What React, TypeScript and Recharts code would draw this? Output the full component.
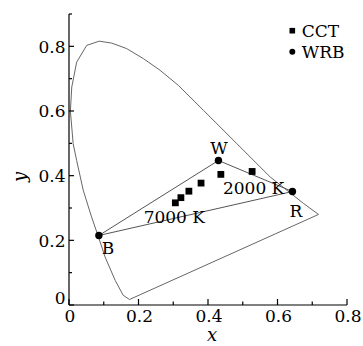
import React from 'react';
import { ScatterChart, Scatter, XAxis, YAxis, Legend } from 'recharts';

// spectral locus (red end -> green peak -> blue end -> back along purple line)
const locusX = [0.718, 0.675, 0.579, 0.483, 0.387, 0.315, 0.262, 0.214, 0.166, 0.123, 0.087, 0.051, 0.022, 0.008, 0.004, 0.012, 0.022, 0.041, 0.065, 0.085, 0.104, 0.133, 0.156, 0.174, 0.718];
const locusY = [0.280, 0.314, 0.396, 0.499, 0.602, 0.679, 0.726, 0.762, 0.793, 0.810, 0.816, 0.803, 0.751, 0.674, 0.600, 0.499, 0.447, 0.355, 0.272, 0.210, 0.148, 0.076, 0.030, 0.017, 0.280];

// CCT points 7000 K ... 2000 K
const cctX = [0.306, 0.322, 0.345, 0.380, 0.437, 0.527];
const cctY = [0.316, 0.332, 0.352, 0.377, 0.404, 0.413];
const cctLabels = ['7000 K', '', '', '', '', '2000 K'];

// W, R, B primaries
const wrbNames = ['W', 'R', 'B'];
const wrbX = [0.430, 0.643, 0.086];
const wrbY = [0.447, 0.351, 0.215];

const xTicks = [0, 0.1, 0.2, 0.3, 0.4, 0.5, 0.6, 0.7, 0.8];
const xTickLabels = ['0', '', '0.2', '', '0.4', '', '0.6', '', '0.8'];
const yTicks = [0, 0.1, 0.2, 0.3, 0.4, 0.5, 0.6, 0.7, 0.8, 0.9];
const yTickLabels = ['0', '', '0.2', '', '0.4', '', '0.6', '', '0.8', ''];

const locus = locusX.map((x, i) => ({ x, y: locusY[i] }));
const cct = cctX.map((x, i) => ({ x, y: cctY[i], label: cctLabels[i] }));
const wrb = wrbX.map((x, i) => ({ x, y: wrbY[i], label: wrbNames[i] }));
const triangle = [...wrb, wrb[0]];

const FONT = '"DejaVu Serif", serif';
const FS = 17;

// label placement relative to its point (center offsets)
const labelOffsets: Record<string, [number, number]> = {
  W: [0.5, -12.5],
  R: [3.5, 19],
  B: [9, 12],
  '7000 K': [-1, 13.5],
  '2000 K': [1.5, 16.5],
};

const PointLabel = ({ cx, cy, text }: { cx: number; cy: number; text: string }) => {
  if (!text) return null;
  const [dx, dy] = labelOffsets[text] || [0, 0];
  return (
    <text x={cx + dx} y={cy + dy + 6.3} textAnchor="middle" fontFamily={FONT} fontSize={FS} fill="#000">
      {text}
    </text>
  );
};

const SquareShape = (p: any) => (
  <g>
    <rect x={p.cx - 3.4} y={p.cy - 3.4} width={6.8} height={6.8} fill="#000" />
    <PointLabel cx={p.cx} cy={p.cy} text={p.payload.label} />
  </g>
);

const CircleShape = (p: any) => (
  <g>
    <circle cx={p.cx} cy={p.cy} r={3.7} fill="#000" />
    <PointLabel cx={p.cx} cy={p.cy} text={p.payload.label} />
  </g>
);

const NoShape = () => <g />;

const XTick = (p: any) => {
  const axisY = p.y - 3;
  const lbl = xTickLabels[p.index];
  const len = lbl ? 6 : 3.5;
  return (
    <g>
      <line x1={p.x} x2={p.x} y1={axisY} y2={axisY - len} stroke="#000" strokeWidth={1.2} />
      {lbl && (
        <text x={p.x + 1} y={axisY + 16.5} textAnchor="middle" fontFamily={FONT} fontSize={FS} fill="#000">
          {lbl}
        </text>
      )}
    </g>
  );
};

const YTick = (p: any) => {
  const axisX = p.x + 3;
  const lbl = yTickLabels[p.index];
  const len = lbl ? 5 : 3;
  const shift = lbl === '0' ? -7 : 0;
  return (
    <g>
      <line x1={axisX} x2={axisX + len} y1={p.y} y2={p.y} stroke="#000" strokeWidth={1.2} />
      {lbl && (
        <text x={p.x - 0.5} y={p.y + 6.3 + shift} textAnchor="end" fontFamily={FONT} fontSize={FS} fill="#000">
          {lbl}
        </text>
      )}
    </g>
  );
};

const LegendContent = (props: any) => {
  const items = (props.payload || []).filter((e: any) => e.type !== 'none');
  return (
    <svg width={78} height={45}>
      {items.map((e: any, i: number) => {
        const cy = 10.7 + i * 21;
        return (
          <g key={e.value}>
            {e.type === 'square' ? (
              <rect x={7.3 - 2.8} y={cy - 2.8} width={5.6} height={5.6} fill="#000" />
            ) : (
              <circle cx={7.3} cy={cy} r={3} fill="#000" />
            )}
            <text x={16.7} y={cy + 6.5} fontFamily={FONT} fontSize={FS} fill="#000">
              {e.value}
            </text>
          </g>
        );
      })}
    </svg>
  );
};

export default function App() {
  return (
    <div style={{ position: 'absolute', left: 0, top: 0, background: '#fff' }}>
      <ScatterChart width={363} height={346} margin={{ top: 14, right: 16, bottom: 11, left: 0 }}>
        <XAxis
          type="number"
          dataKey="x"
          domain={[0, 0.8]}
          ticks={xTicks}
          interval={0}
          height={30}
          tickSize={0}
          tickMargin={3}
          tickLine={false}
          axisLine={{ stroke: '#000', strokeWidth: 1.2 }}
          tick={<XTick />}
          label={{
            content: ({ viewBox }: any) => (
              <text
                x={viewBox.x + viewBox.width / 2 + 4}
                y={viewBox.y + 36}
                textAnchor="middle"
                fontFamily={FONT}
                fontStyle="italic"
                fontSize={FS + 1}
                fill="#000"
              >
                x
              </text>
            ),
          }}
        />
        <YAxis
          type="number"
          dataKey="y"
          domain={[0, 0.9]}
          ticks={yTicks}
          interval={0}
          width={69}
          tickSize={0}
          tickMargin={3}
          tickLine={false}
          axisLine={{ stroke: '#000', strokeWidth: 1.2 }}
          tick={<YTick />}
          label={{
            content: () => (
              <text
                x={0}
                y={0}
                transform="translate(26 177) rotate(-90)"
                textAnchor="middle"
                fontFamily={FONT}
                fontStyle="italic"
                fontSize={FS + 1}
                fill="#000"
              >
                y
              </text>
            ),
          }}
        />
        <Legend
          layout="horizontal"
          verticalAlign="middle"
          align="center"
          content={<LegendContent />}
          wrapperStyle={{ left: 285, top: 20, width: 78, height: 45 }}
        />
        <Scatter
          name="locus"
          data={locus}
          line={{ stroke: '#666', strokeWidth: 1 }}
          lineType="joint"
          shape={NoShape}
          legendType="none"
          isAnimationActive={false}
        />
        <Scatter
          name="triangle"
          data={triangle}
          line={{ stroke: '#555', strokeWidth: 1 }}
          lineType="joint"
          shape={NoShape}
          legendType="none"
          isAnimationActive={false}
        />
        <Scatter name="CCT" data={cct} shape={SquareShape} legendType="square" isAnimationActive={false} />
        <Scatter name="WRB" data={wrb} shape={CircleShape} legendType="circle" isAnimationActive={false} />
      </ScatterChart>
    </div>
  );
}
